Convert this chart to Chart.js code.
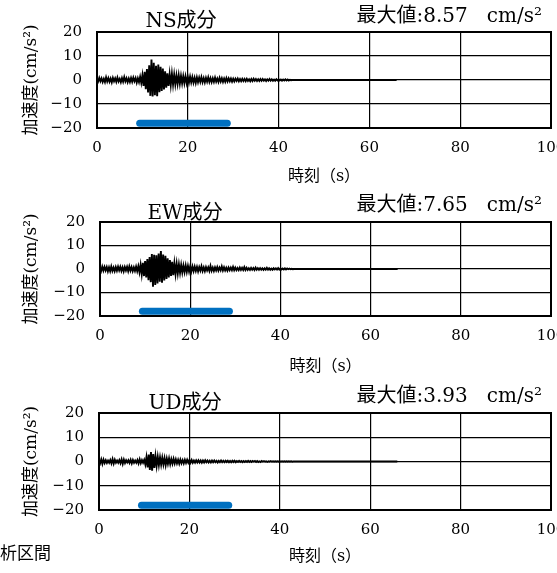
<!DOCTYPE html>
<html>
<head>
<meta charset="utf-8">
<script src="https://cdn.jsdelivr.net/npm/chart.js@4.4.1/dist/chart.umd.min.js"></script>
<style>
  body { margin: 0; width: 557px; height: 573px; overflow: hidden; background: #fff; position: relative;
         font-family: 'DejaVu Serif', 'Noto Sans CJK JP', serif; color: #000; }
  .panel { position: absolute; left: 0; width: 557px; height: 190px; }
  .lbl { position: absolute; white-space: nowrap; line-height: 1; }
  .title { font-size: 20px; transform: translate(-50%, -50%); }
  .peak { font-size: 20px; transform: translateY(-50%); }
  .legend { font-size: 17px; left: -17px; top: 553px; transform: translateY(-50%); }
</style>
</head>
<body>
<div class="panel" style="top:0"><canvas id="c0" width="557" height="190"></canvas></div>
<div class="panel" style="top:190px"><canvas id="c1" width="557" height="190"></canvas></div>
<div class="panel" style="top:380px"><canvas id="c2" width="557" height="190"></canvas></div>
<div class="lbl legend">解析区間</div>
<script>
// time step of the acceleration arrays (s); the record then runs flat to TAIL_END
const DT = 0.25;
const TAIL_END = 66;

const X_TICKS = [0, 20, 40, 60, 80, 100];
const Y_TICKS = [-20, -10, 0, 10, 20];
const COMPONENTS = ['NS成分', 'EW成分', 'UD成分'];
const PEAKS = [8.57, 7.65, 3.93];

// analysis interval (s), drawn as the blue bar
const ANALYSIS = [9.4, 28.7];
const ANALYSIS_LEVEL = -18;

const NS_ACC = [
  0.4,-0.6,0.9,-0.5,0.7,-0.8,0.5,-0.9,1.1,-0.6,
  0.8,-0.7,0.6,-1.0,0.9,-0.5,0.7,-0.8,1.0,-0.6,
  0.5,-0.9,0.8,-0.7,1.2,-0.6,0.7,-0.9,0.6,-0.8,
  0.9,-0.7,1.0,-0.5,0.8,-1.1,0.7,-0.9,1.3,-1.2,
  2.0,-2.5,3.4,-3.8,4.6,-5.2,6.1,-6.6,8.57,-6.9,
  7.2,-6.3,5.9,-6.8,6.4,-5.1,5.5,-4.6,4.8,-3.9,
  3.6,-3.2,2.8,-2.5,2.4,-2.1,2.6,-1.9,2.2,-1.8,
  1.9,-1.6,2.0,-1.5,1.7,-1.4,1.6,-1.3,1.5,-1.2,
  1.3,-1.1,1.4,-1.0,1.2,-1.1,0.9,-1.2,1.1,-0.9,
  1.0,-0.8,1.2,-0.9,0.8,-1.0,0.9,-0.7,1.1,-0.8,
  0.8,-0.9,0.7,-0.8,1.0,-0.7,0.6,-0.8,0.9,-0.6,
  0.7,-0.8,0.6,-0.7,0.8,-0.6,0.7,-0.5,0.6,-0.7,
  0.5,-0.6,0.5,-0.4,0.6,-0.5,0.4,-0.5,0.5,-0.4,
  0.4,-0.5,0.5,-0.4,0.3,-0.5,0.4,-0.4,0.5,-0.3,
  0.4,-0.4,0.3,-0.4,0.4,-0.3,0.4,-0.3,0.3,-0.4,
  0.3,-0.3,0.4,-0.3,0.3,-0.3,0.2,-0.3,0.3,-0.2,
  0.3,-0.2,0.2,-0.3,0.2,-0.2,0.3,-0.2,0.2,-0.2,
  0.1,-0.1,0.0
];

const EW_ACC = [
  0.6,-0.8,1.0,-0.7,0.9,-0.6,0.8,-1.0,0.7,-0.9,
  1.1,-0.8,0.6,-0.9,0.8,-0.7,1.0,-0.6,0.9,-0.8,
  0.7,-1.0,0.8,-0.6,0.9,-0.9,1.1,-0.7,0.8,-0.9,
  0.7,-0.8,1.0,-0.9,1.2,
  -1.4,1.8,-2.2,2.6,-3.0,3.4,-3.6,4.2,-4.8,5.1,
  -5.6,6.4,-7.5,6.0,-6.8,5.8,-6.2,6.6,-5.4,7.65,
  -5.8,6.2,-4.9,5.6,-4.2,4.5,-3.6,3.8,-2.9,3.1,
  -2.6,2.4,-2.1,2.2,-1.8,1.9,-1.6,1.7,-1.5,1.4,-1.3,1.5,-1.2,1.3,-1.1,1.2,
  -1.0,1.1,-0.9,1.0,-0.8,0.9,-1.0,0.8,-0.7,1.2,
  -0.8,0.7,-0.9,0.8,-0.6,0.7,-0.8,1.3,-0.7,0.6,
  -0.8,0.7,-0.6,0.8,-0.7,0.6,-0.5,1.1,-0.6,0.7,
  -0.6,0.5,-0.7,0.6,-0.5,0.6,-0.5,0.9,-0.5,0.6,
  -0.5,0.4,-0.5,0.6,-0.4,0.5,-0.4,0.8,-0.4,0.5,
  -0.4,0.3,-0.4,0.5,-0.3,0.4,-0.4,0.6,-0.3,0.4,
  -0.3,0.4,-0.3,0.3,-0.4,0.3,-0.3,0.5,-0.3,0.3,
  -0.3,0.2,-0.3,0.3,-0.2,0.3,-0.2,0.4,-0.2,0.3,
  -0.2,0.2,-0.2,0.3,-0.2,0.2,-0.1,0.2,-0.1,0.1,
  -0.1,0.0
];

const UD_ACC = [
  0.5,-0.7,0.9,-1.0,0.8,-0.6,0.5,-0.6,0.4,-0.5,
  0.6,-0.8,1.0,-0.9,0.7,-0.5,0.4,-0.5,0.6,-0.7,
  0.9,-1.0,0.8,-0.6,0.5,-0.4,0.5,-0.6,0.7,-0.8,
  0.6,-0.5,0.4,-0.5,0.6,-0.8,0.9,-0.7,0.6,-0.5,
  0.7,
  -1.2,1.8,-2.4,2.9,-3.5,3.93,-3.8,3.1,-2.6,2.2,
  -1.8,1.9,-1.5,1.7,-1.3,1.6,-1.2,1.4,-1.5,1.2,
  -1.0,1.3,-1.1,1.0,-0.9,1.1,-0.8,0.9,
  -0.8,0.7,-0.9,0.8,-0.7,0.6,-0.8,0.7,-0.6,0.7,-0.5,0.6,
  -0.5,0.6,-0.5,0.4,-0.5,0.5,-0.4,0.5,-0.4,0.4,
  -0.5,0.4,-0.4,0.5,-0.3,0.4,-0.4,0.3,-0.4,0.4,
  -0.3,0.4,-0.3,0.3,-0.4,0.3,-0.3,0.4,-0.3,0.3,
  -0.3,0.3,-0.2,0.3,-0.3,0.2,-0.3,0.3,-0.2,0.3,
  -0.3,0.2,-0.2,0.3,-0.2,0.2,-0.3,0.2,-0.2,0.2,
  -0.2,0.3,-0.2,0.2,-0.2,0.2,-0.1,0.2,-0.2,0.2,
  -0.2,0.1,-0.2,0.2,-0.1,0.2,-0.1,0.1,-0.2,0.1,
  -0.1,0.2,-0.1,0.1,-0.1,0.1,-0.1,0.1,-0.1,0.1,
  -0.1,0.1,-0.1,0.1,-0.1,0.1,-0.1,0.1,-0.1,0.1,
  -0.1,0.0
];

const SERIES = [NS_ACC, EW_ACC, UD_ACC];

// placement of each panel inside its 557x190 canvas
const BOXES = [
  { left: 97,  top: 32, bottom: 128, titleX: 181, titleY: 20,  peakY: 15 },
  { left: 100, top: 32, bottom: 126, titleX: 185, titleY: 212, peakY: 204 },
  { left: 99,  top: 33, bottom: 130, titleX: 185, titleY: 402, peakY: 395 }
];

const FONT = "'DejaVu Serif', 'Noto Sans CJK JP', serif";
const minus = v => String(v).replace('-', '\u2212');

const frame = {
  id: 'frame',
  afterDatasetsDraw(chart) {
    const { ctx, chartArea: a } = chart;
    ctx.save();
    ctx.strokeStyle = '#000';
    ctx.lineWidth = 2;
    ctx.strokeRect(a.left, a.top, a.right - a.left, a.bottom - a.top);
    ctx.restore();
  }
};

function addLabel(cls, text, style) {
  const d = document.createElement('div');
  d.className = 'lbl ' + cls;
  d.textContent = text;
  Object.assign(d.style, style);
  document.body.appendChild(d);
}

SERIES.forEach((values, i) => {
  const box = BOXES[i];
  const wave = values.map((v, k) => ({ x: k * DT, y: v }));
  wave.push({ x: TAIL_END, y: 0 });

  new Chart(document.getElementById('c' + i), {
    type: 'line',
    data: {
      datasets: [
        { data: wave, borderColor: '#000', borderWidth: 1.9, pointRadius: 0, order: 2 },
        { data: ANALYSIS.map(x => ({ x: x, y: ANALYSIS_LEVEL })), borderColor: '#0070C0',
          borderWidth: 7, borderCapStyle: 'round', pointRadius: 0, order: 1 }
      ]
    },
    options: {
      responsive: false,
      animation: false,
      events: [],
      layout: { padding: { top: box.top, right: 6, left: 0, bottom: 0 } },
      plugins: { legend: { display: false }, tooltip: { enabled: false } },
      scales: {
        x: {
          type: 'linear', min: 0, max: 100,
          afterBuildTicks: s => { s.ticks = X_TICKS.map(v => ({ value: v })); },
          afterFit: s => { s.height = 190 - box.bottom; s.paddingLeft = 0; s.paddingRight = 0; },
          grid: { color: '#000', lineWidth: 1.2, drawTicks: false },
          border: { display: false },
          ticks: { color: '#000', font: { family: FONT, size: 15 }, padding: 11, maxRotation: 0, autoSkip: false },
          title: { display: true, text: '時刻（s）', color: '#000', font: { family: FONT, size: 16 }, padding: { top: 3 } }
        },
        y: {
          min: -20, max: 20,
          afterBuildTicks: s => { s.ticks = Y_TICKS.map(v => ({ value: v })); },
          afterFit: s => { s.width = box.left; s.paddingTop = 0; s.paddingBottom = 0; },
          grid: { color: '#000', lineWidth: 1.2, drawTicks: false },
          border: { display: false },
          ticks: { color: '#000', font: { family: FONT, size: 15 }, padding: 15, callback: minus },
          title: { display: true, text: '加速度(cm/s²)', color: '#000', font: { family: FONT, size: 17 }, padding: { top: 21 } }
        }
      }
    },
    plugins: [frame]
  });

  addLabel('title', COMPONENTS[i], { left: box.titleX + 'px', top: box.titleY + 'px' });
  addLabel('peak', '最大値:' + PEAKS[i].toFixed(2) + '\u00a0\u00a0\u00a0cm/s²', { right: '15px', top: box.peakY + 'px' });
});
</script>
</body>
</html>
